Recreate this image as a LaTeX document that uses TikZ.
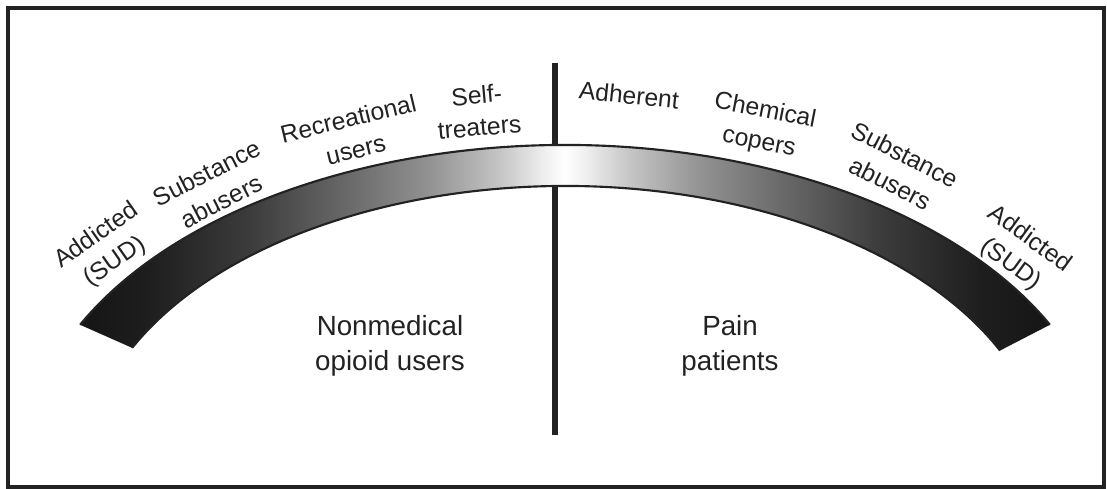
\documentclass[tikz,border=0pt]{standalone}
\usepackage{fontspec}
\setmainfont{Liberation Sans}
\usetikzlibrary{calc}
\definecolor{ink}{HTML}{222222}
\definecolor{sa}{HTML}{151515}
\definecolor{sb}{HTML}{1E1E1E}
\definecolor{sc}{HTML}{3C3C3C}
\definecolor{sd}{HTML}{6A6A6A}
\definecolor{se}{HTML}{929292}
\definecolor{sf}{HTML}{C4C4C4}
\definecolor{sg}{HTML}{F0F0F0}
\pgfdeclarehorizontalshading{bandshade}{100bp}{color(0bp)=(sa); color(25bp)=(sa); color(28.6bp)=(sb); color(33.8bp)=(sc); color(38.9bp)=(sd); color(43bp)=(se); color(46.6bp)=(sf); color(49bp)=(sg); color(50bp)=(white); color(51bp)=(sg); color(53.4bp)=(sf); color(57bp)=(se); color(61.1bp)=(sd); color(66.2bp)=(sc); color(71.4bp)=(sb); color(75bp)=(sa); color(100bp)=(sa)}
\tikzset{
  lbl/.style={font=\fontsize{18.5pt}{24pt}\selectfont, text=ink, align=center, inner sep=0pt},
  biglbl/.style={font=\fontsize{20.8pt}{26.25pt}\selectfont, text=ink, align=center, inner sep=0pt},
  frame/.style={draw=ink, line width=3pt},
  divider/.style={draw=ink, line width=4.5pt},
  bandedge/.style={draw=ink, line width=1.6pt},
}
\begin{document}
\begin{tikzpicture}[x=0.75pt,y=0.75pt]
\useasboundingbox (0,0) rectangle (1107,489);
% frame
\draw[frame] (7.5,481) rectangle (1104,1.5);
% vertical divider
\coordinate (vt) at (555,426);
\coordinate (vb) at (555,54);
\draw[divider] (vt) -- (vb);
% band
\coordinate (oc) at (565,23);
\coordinate (ic) at (565,18);
\coordinate (OL) at ($(oc)+(153.9:405pt and 240.75pt)$);
\coordinate (OR) at ($(oc)+(26.1:405pt and 240.75pt)$);
\coordinate (IL) at ($(ic)+(154.4:360pt and 213.75pt)$);
\coordinate (IR) at ($(ic)+(25.0:360pt and 213.75pt)$);
\shade[shading=bandshade] (OL) arc[start angle=153.9, end angle=26.1, x radius=405pt, y radius=240.75pt] -- (IR) arc[start angle=25.0, end angle=154.4, x radius=360pt, y radius=213.75pt] -- cycle;
\draw[bandedge] (OL) arc[start angle=153.9, end angle=26.1, x radius=405pt, y radius=240.75pt];
\draw[bandedge] (IL) arc[start angle=154.4, end angle=25.0, x radius=360pt, y radius=213.75pt];
% labels along the band
\node[lbl, rotate=35] (l1) at (106,240) {Addicted\\(SUD)};
\node[lbl, rotate=27] (l2) at (214,302) {Substance\\abusers};
\node[lbl, rotate=13.5] (l3) at (352,355) {Recreational\\users};
\node[lbl, rotate=5] (l4) at (478,378) {Self-\\treaters};
\node[lbl, rotate=-6] (r1) at (629,394) {Adherent};
\node[lbl, rotate=-11] (r2) at (762,362) {Chemical\\copers};
\node[lbl, rotate=-27] (r3) at (898,320) {Substance\\abusers};
\node[lbl, rotate=-36] (r4) at (1020,237) {Addicted\\(SUD)};
% group labels
\node[biglbl] (g1) at (390,143.5) {Nonmedical\\opioid users};
\node[biglbl] (g2) at (730,143.5) {Pain\\patients};
\end{tikzpicture}
\end{document}
